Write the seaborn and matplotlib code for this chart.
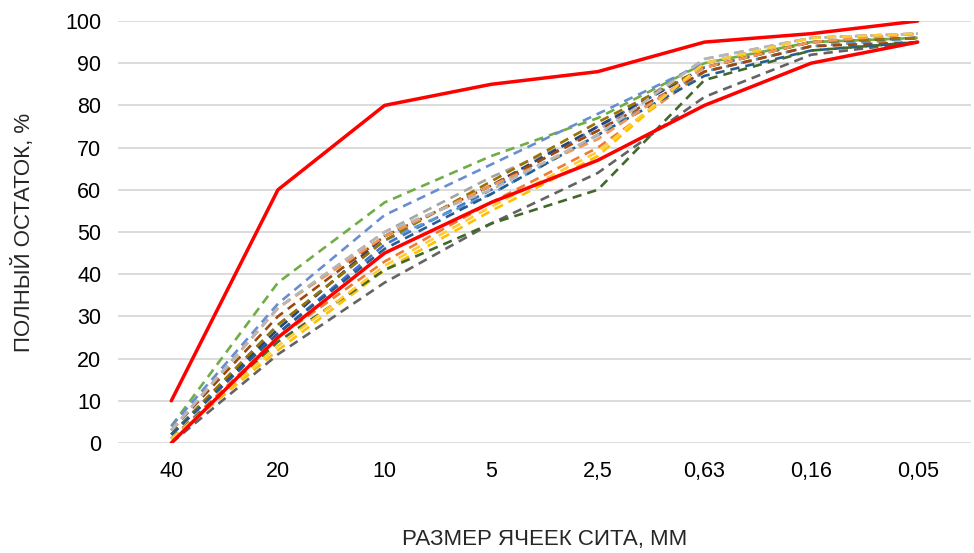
import pandas as pd
import matplotlib
matplotlib.use("Agg")
import matplotlib.pyplot as plt
import seaborn as sns

# размеры сит, мм
sieves = ['40', '20', '10', '5', '2,5', '0,63', '0,16', '0,05']

# границы зернового состава (красные)
upper_bound = [10, 60, 80, 85, 88, 95, 97, 100]
lower_bound = [0, 25, 45, 57, 67, 80, 90, 95]

# пробы (пунктир)
s01 = [2, 26, 47, 60, 75, 89, 95, 96]
s02 = [1, 25, 43, 57, 70, 88, 94, 96]
s03 = [3, 32, 50, 63, 74, 91, 96, 97]
s04 = [1, 22, 41, 55, 68, 90, 95, 97]
s05 = [2, 28, 48, 59, 73, 88, 94, 96]
s06 = [4, 38, 57, 68, 77, 90, 95, 96]
s07 = [2, 27, 49, 61, 75, 89, 95, 96]
s08 = [3, 30, 49, 61, 74, 88, 94, 95]
s09 = [0, 21, 38, 52, 64, 82, 92, 95]
s10 = [2, 28, 48, 62, 76, 89, 95, 96]
s11 = [2, 26, 46, 59, 73, 87, 93, 95]
s12 = [1, 24, 41, 52, 60, 86, 93, 95]
s13 = [4, 33, 54, 66, 78, 90, 96, 97]
s14 = [3, 32, 49, 61, 72, 89, 95, 97]
s15 = [3, 32, 50, 60, 73, 91, 96, 97]
s16 = [1, 23, 42, 56, 69, 90, 96, 97]

samples = [s01, s02, s03, s04, s05, s06, s07, s08,
           s09, s10, s11, s12, s13, s14, s15, s16]
colors = ['#4472C4', '#ED7D31', '#A5A5A5', '#FFC000', '#5B9BD5', '#70AD47',
          '#264478', '#9E480E', '#636363', '#997300', '#255E91', '#43682B',
          '#698ED0', '#F1975A', '#B7B7B7', '#FFCD33']

sns.set_style('white')
plt.rcParams['font.family'] = ['Liberation Sans', 'DejaVu Sans']

fig = plt.figure(figsize=(9.74, 5.53), dpi=100)
ax = fig.add_axes([118 / 974, 1 - 443 / 553, (971 - 118) / 974, (443 - 21) / 553])

xpos = list(range(len(sieves)))
for vals, c in zip(samples, colors):
    df = pd.DataFrame({'x': xpos, 'y': vals})
    sns.lineplot(data=df, x='x', y='y', color=c, lw=1.9, ax=ax,
                 linestyle=(0, (3.5, 2.3)), sort=False)

for vals in [upper_bound, lower_bound]:
    df = pd.DataFrame({'x': xpos, 'y': vals})
    sns.lineplot(data=df, x='x', y='y', color='#FF0000', lw=2.5, ax=ax, sort=False)

ax.set_xlim(-0.5, len(sieves) - 0.5)
ax.set_ylim(0, 100)
ax.set_yticks(range(0, 101, 10))
ax.set_xticks(xpos)
ax.set_xticklabels(sieves)
ax.tick_params(axis='both', labelsize=15.5, colors='#000000', length=0)
ax.tick_params(axis='x', pad=13)
ax.tick_params(axis='y', pad=12)
ax.grid(axis='y', color='#D9D9D9', lw=1.3)
ax.set_axisbelow(True)
for s in ax.spines.values():
    s.set_visible(False)

ax.set_xlabel('РАЗМЕР ЯЧЕЕК СИТА, ММ', fontsize=16, labelpad=34)
ax.set_ylabel('ПОЛНЫЙ ОСТАТОК, %', fontsize=16, labelpad=22)

fig.savefig('out.png', dpi=100, facecolor='white')
